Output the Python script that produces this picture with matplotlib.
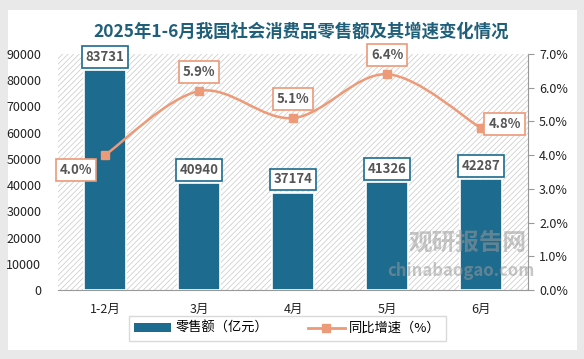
import matplotlib
matplotlib.use("Agg")
import matplotlib.pyplot as plt
from matplotlib.path import Path
from matplotlib.patches import PathPatch, Rectangle, Patch
from matplotlib.lines import Line2D
import numpy as np

plt.rcParams['font.family'] = ['Noto Sans CJK SC', 'DejaVu Sans']
plt.rcParams['hatch.linewidth'] = 0.55
plt.rcParams['hatch.color'] = '#CCCCCC'

categories = ['1-2月', '3月', '4月', '5月', '6月']
sales = [83731, 40940, 37174, 41326, 42287]
growth = [4.0, 5.9, 5.1, 6.4, 4.8]
title = '2025年1-6月我国社会消费品零售额及其增速变化情况'

bar_color = '#1D6B8E'
line_color = '#EC9A78'
title_color = '#1F5F7A'

fig = plt.figure(figsize=(5.84, 3.59), dpi=100)
fig.patch.set_facecolor('#E9E9E9')
card = Rectangle((8/584, 9/359), 569/584, 340/359, transform=fig.transFigure,
                 facecolor='white', edgecolor='none', zorder=0)
fig.patches.append(card)

ax = fig.add_axes([58/584, 69/359, 470/584, 236/359])
ax.set_zorder(1)
ax.patch.set_facecolor('white')
ax.patch.set_hatch('//////')
ax.patch.set_edgecolor('#CCCCCC')
ax.patch.set_linewidth(0)

x = np.arange(len(categories))
ax.bar(x, sales, width=0.44, color=bar_color, edgecolor='white', linewidth=1.2, zorder=3)
ax.set_xlim(-0.5, len(categories) - 0.5)
ax.set_ylim(0, 90000)
ax.set_yticks(np.arange(0, 90001, 10000))
ax.set_yticklabels([str(v) for v in range(0, 90001, 10000)])
ax.set_xticks(x)
ax.set_xticklabels(categories)
for s in ['top', 'right', 'left']:
    ax.spines[s].set_visible(False)
ax.spines['bottom'].set_color('#999999')
ax.tick_params(axis='y', length=0, labelsize=9, colors='#222222', pad=12)
ax.tick_params(axis='x', length=0, labelsize=9, colors='#222222', pad=9)

for xi, v in zip(x, sales):
    ax.text(xi, v + 2300, str(v), ha='center', va='bottom', fontsize=9.5, fontweight='bold',
            color='#555555', zorder=6,
            bbox=dict(boxstyle='square,pad=0.3', facecolor='white', edgecolor=bar_color, linewidth=1.2))

ax2 = ax.twinx()
ax2.set_zorder(2)
ax2.set_ylim(0, 7.0)
ax2.set_yticks(np.arange(0, 7.01, 1.0))
ax2.set_yticklabels([f'{v:.1f}%' for v in np.arange(0, 7.01, 1.0)])
for s in ['top', 'left', 'bottom']:
    ax2.spines[s].set_visible(False)
ax2.spines['right'].set_color('#999999')
ax2.tick_params(axis='y', length=4, color='#999999', labelsize=9, labelcolor='#222222', pad=4)

# smooth line via Catmull-Rom bezier segments
pts = np.column_stack([x, growth]).astype(float)
verts = [tuple(pts[0])]
codes = [Path.MOVETO]
n = len(pts)
for i in range(n - 1):
    p0 = pts[i - 1] if i > 0 else pts[i]
    p1 = pts[i]
    p2 = pts[i + 1]
    p3 = pts[i + 2] if i + 2 < n else pts[i + 1]
    c1 = p1 + (p2 - p0) / 6.0
    c2 = p2 - (p3 - p1) / 6.0
    verts += [tuple(c1), tuple(c2), tuple(p2)]
    codes += [Path.CURVE4] * 3
path = Path(verts, codes)
ax2.add_patch(PathPatch(path, facecolor='none', edgecolor=line_color, linewidth=1.8, zorder=4))
ax2.plot(x, growth, linestyle='none', marker='s', markersize=6, color=line_color, zorder=5)

for xi, g in zip(x, growth):
    if xi == 0:
        tx, ty, ha, va = xi - 0.31, g - 0.45, 'center', 'center'
    elif xi == 4:
        tx, ty, ha, va = xi + 0.25, g + 0.12, 'center', 'center'
    else:
        tx, ty, ha, va = xi, g + 0.35, 'center', 'bottom'
    ax2.text(tx, ty, f'{g:.1f}%', ha=ha, va=va, fontsize=9.5, fontweight='bold', color='#555555', zorder=7,
             bbox=dict(boxstyle='square,pad=0.3', facecolor='white', edgecolor=line_color, linewidth=1.2))

# watermark
fig.text(0.80, 0.325, '观研报告网', fontsize=17, fontweight='bold', color='#9A9A9A', alpha=0.55,
         ha='center', va='center', zorder=8)
fig.text(0.79, 0.245, 'chinabaogao.com', fontsize=12, fontweight='bold', color='#9A9A9A', alpha=0.55,
         ha='center', va='center', zorder=8)

fig.text(0.515, 0.912, title, fontsize=12.5, fontweight='bold', color=title_color, ha='center', va='center')

handles = [Patch(facecolor=bar_color, edgecolor='none'),
           Line2D([0], [0], color=line_color, linewidth=2, marker='s', markersize=6)]
leg = fig.legend(handles, ['零售额（亿元）', '同比增速（%）'], loc='center', bbox_to_anchor=(0.492, 0.085),
                 ncol=2, frameon=True, fancybox=False, fontsize=9.5, handlelength=2.8, columnspacing=3,
                 handletextpad=0.3, handleheight=0.6, borderpad=0.45)
leg.get_frame().set_edgecolor('#D0D0D0')
leg.get_frame().set_linewidth(1)

fig.savefig('out.png', dpi=100, facecolor=fig.get_facecolor())
